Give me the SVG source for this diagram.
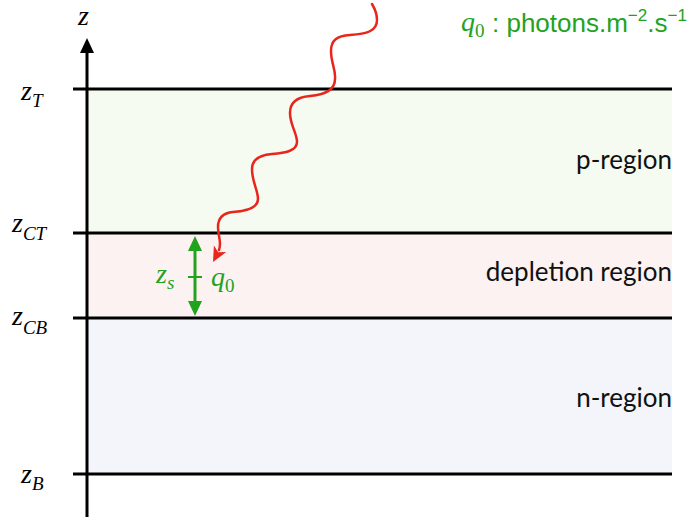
<svg xmlns="http://www.w3.org/2000/svg" width="692" height="517" viewBox="0 0 692 517">
<style>
.lbl{font-family:"Liberation Serif",serif;font-style:italic;font-size:28px;fill:#000}
.sub{font-size:19px}
.up{font-style:normal}
.reg{font-family:Lato,"Open Sans",sans-serif;font-size:26px;fill:#111;text-anchor:end}
.g{fill:#22a31d}
.bound{stroke:#000;stroke-width:3;fill:none}
</style>
<g id="p-region"><rect x="87" y="89" width="585" height="144" fill="#f5fbf1"/><text class="reg" x="672" y="169">p-region</text></g>
<g id="depletion-region"><rect x="87" y="233" width="585" height="85" fill="#fdf2f2"/><text class="reg" x="672" y="281">depletion region</text></g>
<g id="n-region"><rect x="87" y="318" width="585" height="156" fill="#f3f5fa"/><text class="reg" x="672" y="407">n-region</text></g>
<g id="boundaries">
<line class="bound" x1="73" y1="89" x2="672" y2="89"/>
<line class="bound" x1="73" y1="233" x2="672" y2="233"/>
<line class="bound" x1="73" y1="318" x2="672" y2="318"/>
<line class="bound" x1="73" y1="474" x2="672" y2="474"/>
</g>
<g id="axis">
<line x1="87" y1="517" x2="87" y2="50" stroke="#000" stroke-width="3"/>
<path d="M87,38 L94,53 L80,53 z" fill="#000"/>
<text class="lbl" x="78" y="25">z</text>
</g>
<g id="labels">
<text class="lbl" x="21" y="100">z<tspan class="sub" dy="7">T</tspan></text>
<text class="lbl" x="12" y="232">z<tspan class="sub" dy="8">CT</tspan></text>
<text class="lbl" x="12" y="325">z<tspan class="sub" dy="9">CB</tspan></text>
<text class="lbl" x="21" y="483">z<tspan class="sub" dy="7">B</tspan></text>
</g>
<g id="connectors">
<path d="M372,4 C375,9 377,14 377,20 C377,31 367,34 350,35 C337,36 331,40 331,51 C331,63 336,70 335,79 C335,91 322,95 310,96 C297,97 290,102 290,113 C290,125 297,133 297,142 C297,151 285,153 272,154 C259,155 252,160 252,169 C252,182 258,190 258,199 C258,208 247,211 233,212 C223,213 218,218 218,227 C218,237 222,242 219,250" fill="none" stroke="#e8261c" stroke-width="2.5" stroke-linecap="round"/>
<path d="M213,262 L213.9,245.5 L218.2,252.3 L226.2,252.1 z" fill="#e8261c"/>
<line x1="195" y1="243" x2="195" y2="309" stroke="#22a31d" stroke-width="3"/>
<path d="M195,236 L202,251 L188,251 z" fill="#22a31d"/>
<path d="M195,316 L202,301 L188,301 z" fill="#22a31d"/>
<line x1="188" y1="277" x2="202" y2="277" stroke="#22a31d" stroke-width="2"/>
</g>
<g id="zs-q0">
<text class="lbl g" x="156" y="283">z<tspan class="sub" dy="6">s</tspan></text>
<text class="lbl g" x="211" y="286">q<tspan class="sub up" dy="6">0</tspan></text>
</g>
<g id="legend">
<text class="lbl g" x="461" y="31">q<tspan class="sub up" dy="6">0</tspan></text>
<text x="492" y="32" font-family="'Liberation Sans',Arial,sans-serif" font-size="26" fill="#22a31d">: photons.m<tspan font-size="17" dy="-11">−2</tspan><tspan dy="11">.s</tspan><tspan font-size="17" dy="-11">−1</tspan></text>
</g>
</svg>
